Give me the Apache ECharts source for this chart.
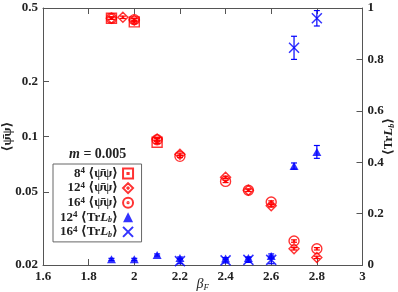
<!DOCTYPE html>
<html><head><meta charset="utf-8">
<script src="https://cdn.jsdelivr.net/npm/echarts@6/dist/echarts.min.js"></script>
<style>html,body{margin:0;padding:0;background:#fff}#c{width:398px;height:292px}</style>
</head><body><div id="c"></div>
<script>
// ---- data ----
const xTicks = [1.6, 1.8, 2.0, 2.2, 2.4, 2.6, 2.8, 3.0];
const leftTicks = [0.02, 0.05, 0.1, 0.2, 0.5];
const rightTicks = [0, 0.2, 0.4, 0.6, 0.8, 1];

const beta8 = [1.9, 2.0, 2.1];
const pp8 = [0.44, 0.42, 0.093];
const beta12 = [1.9, 1.95, 2.0, 2.1, 2.2, 2.4, 2.5, 2.6, 2.7, 2.8];
const pp12 = [0.44, 0.445, 0.43, 0.097, 0.08, 0.06, 0.051, 0.042, 0.0245, 0.022];
const beta16 = [1.9, 2.0, 2.1, 2.2, 2.4, 2.5, 2.6, 2.7, 2.8];
const pp16 = [0.44, 0.432, 0.096, 0.078, 0.057, 0.051, 0.044, 0.027, 0.0245];
const betaL12 = [1.9, 2.0, 2.1, 2.2, 2.4, 2.5, 2.6, 2.7, 2.8];
const trL12 = [0.022, 0.022, 0.039, 0.027, 0.025, 0.027, 0.035, 0.385, 0.44];
const trL12Err = [0.004, 0.004, 0.004, 0.004, 0.004, 0.004, 0.008, 0.012, 0.025];
const betaL16 = [2.2, 2.4, 2.5, 2.6, 2.7, 2.8];
const trL16 = [0.015, 0.018, 0.02, 0.02, 0.845, 0.96];
const trL16Err = [0.01, 0.01, 0.01, 0.015, 0.045, 0.03];
const ppRelErr = 0.015;

const RED = '#ff0000', BLUE = '#0000ff', AX = '#555555';
const FONT = '"Liberation Serif", "DejaVu Serif", serif';

const pts = (xs, ys) => xs.map((x, i) => [x, ys[i]]);
const errPts = (xs, ys, es) => xs.map((x, i) => [x, ys[i], es[i]]);

const SQ = 'path://M0,0H10V10H0Z M4.4,4.4H5.6V5.6H4.4Z';
const DI = 'path://M5,0L10,5L5,10L0,5Z M5,4.3L5.7,5L5,5.7L4.3,5Z';
const CI = 'path://M5,0A5,5,0,1,1,5,10A5,5,0,1,1,5,0Z M5,4.4A0.6,0.6,0,1,1,5,5.6A0.6,0.6,0,1,1,5,4.4Z';
const XX = 'path://M0,0L10,10M10,0L0,10';

function errSeries(data, color, yIdx, cap) {
  return {
    type: 'custom', xAxisIndex: 0, yAxisIndex: yIdx, silent: true, z: 3,
    data: data,
    renderItem: function (params, api) {
      const x = api.value(0), y = api.value(1), e = api.value(2);
      const lo = api.coord([x, y - e]), hi = api.coord([x, y + e]);
      const st = { stroke: color, lineWidth: 1.2 };
      return { type: 'group', children: [
        { type: 'line', shape: { x1: lo[0], y1: lo[1], x2: hi[0], y2: hi[1] }, style: st },
        { type: 'line', shape: { x1: lo[0] - cap, y1: lo[1], x2: lo[0] + cap, y2: lo[1] }, style: st },
        { type: 'line', shape: { x1: hi[0] - cap, y1: hi[1], x2: hi[0] + cap, y2: hi[1] }, style: st }
      ]};
    }
  };
}

const rel = (xs, ys) => xs.map((x, i) => [x, ys[i], ys[i] * ppRelErr]);

const hollow = (c) => ({ color: 'rgba(0,0,0,0)', borderColor: c, borderWidth: 1.4 });

const legendNames = {
  pp8: '{n|8}{s|4} {t|⟨ψ̄ψ⟩}',
  pp12: '{n|12}{s|4} {t|⟨ψ̄ψ⟩}',
  pp16: '{n|16}{s|4} {t|⟨ψ̄ψ⟩}',
  L12: '{n|12}{s|4} {t|⟨Tr}{i|L}{b|b}{t|⟩}',
  L16: '{n|16}{s|4} {t|⟨Tr}{i|L}{b|b}{t|⟩}'
};

const baseLabel = { fontFamily: FONT, fontWeight: 'bold', fontSize: 13, color: '#222' };

const chart = echarts.init(document.getElementById('c'), null, { renderer: 'canvas' });
chart.setOption({
  animation: false,
  backgroundColor: '#fff',
  grid: { left: 43, right: 35.5, top: 8, bottom: 27, containLabel: false, outerBoundsMode: 'none' },
  title: {
    text: '{i|m} = 0.005', left: 64, top: 142,
    textStyle: { fontFamily: FONT, fontWeight: 'bold', fontSize: 14, color: '#222',
      rich: { i: { fontFamily: FONT, fontStyle: 'italic', fontWeight: 'bold', fontSize: 14, color: '#222' } } }
  },
  legend: {
    orient: 'vertical', align: 'right', left: 53, top: 164,
    data: ['pp8', 'pp12', 'pp16', 'L12', 'L16'],
    itemWidth: 10, itemHeight: 10, itemGap: 0.6,
    padding: [2.5, 7.5, 3, 7],
    borderColor: '#666', borderWidth: 1, backgroundColor: '#fff',
    formatter: (n) => legendNames[n],
    textStyle: {
      fontFamily: FONT, fontWeight: 'bold', fontSize: 13, color: '#222', lineHeight: 14,
      rich: {
        n: { fontFamily: FONT, fontWeight: 'bold', fontSize: 13, color: '#222' },
        s: { fontFamily: FONT, fontWeight: 'bold', fontSize: 9, color: '#222', verticalAlign: 'top', padding: [0, 0, 6, 0] },
        t: { fontFamily: FONT, fontWeight: 'bold', fontSize: 13, color: '#222' },
        i: { fontFamily: FONT, fontWeight: 'bold', fontStyle: 'italic', fontSize: 13, color: '#222' },
        b: { fontFamily: FONT, fontWeight: 'bold', fontStyle: 'italic', fontSize: 8, color: '#222', verticalAlign: 'bottom', padding: [4, 0, 0, 0] }
      }
    }
  },
  xAxis: [{
    type: 'value', position: 'bottom', min: 1.6, max: 3, interval: 0.2,
    name: '{b|β}{s|F}', nameLocation: 'middle', nameGap: 12, nameMoveOverlap: false,
    nameTextStyle: { rich: {
      b: { fontFamily: FONT, fontStyle: 'italic', fontSize: 14, color: '#222' },
      s: { fontFamily: FONT, fontStyle: 'italic', fontSize: 9, color: '#222', verticalAlign: 'bottom', padding: [6, 0, 0, 0] } } },
    axisLine: { lineStyle: { color: AX, width: 1 } },
    axisTick: { inside: true, length: 6, lineStyle: { color: AX } },
    axisLabel: Object.assign({ margin: 5, formatter: (v) => String(+v.toFixed(1)) }, baseLabel),
    splitLine: { show: false }
  }, {
    type: 'value', position: 'top', min: 1.6, max: 3, interval: 0.2,
    axisLine: { lineStyle: { color: AX, width: 1 } },
    axisTick: { inside: true, length: 6, lineStyle: { color: AX } },
    axisLabel: { show: false }, splitLine: { show: false }
  }],
  yAxis: [{
    type: 'log', position: 'left', min: 0.02, max: 0.5, logBase: 10,
    name: '⟨ψ̄ψ⟩', nameLocation: 'middle', nameRotate: 90, nameGap: 29, nameMoveOverlap: false,
    nameTextStyle: { fontFamily: FONT, fontWeight: 'bold', fontSize: 13, color: '#222' },
    axisLine: { show: true, lineStyle: { color: AX, width: 1 } },
    axisTick: { inside: true, length: 6, lineStyle: { color: AX }, customValues: leftTicks },
    axisLabel: Object.assign({ margin: 5, customValues: leftTicks, formatter: (v) => String(+(+v).toPrecision(3)) }, baseLabel),
    minorTick: { show: false }, splitLine: { show: false }
  }, {
    type: 'value', position: 'right', min: 0, max: 1, interval: 0.2,
    name: '{t|⟨Tr}{i|L}{b|b}{t|⟩}', nameLocation: 'middle', nameRotate: 90, nameGap: 20, nameMoveOverlap: false,
    nameTextStyle: { rich: {
      t: { fontFamily: FONT, fontWeight: 'bold', fontSize: 13, color: '#222' },
      i: { fontFamily: FONT, fontWeight: 'bold', fontStyle: 'italic', fontSize: 13, color: '#222' },
      b: { fontFamily: FONT, fontWeight: 'bold', fontStyle: 'italic', fontSize: 8, color: '#222', verticalAlign: 'bottom', padding: [4, 0, 0, 0] } } },
    axisLine: { show: true, lineStyle: { color: AX, width: 1 } },
    axisTick: { inside: true, length: 6, lineStyle: { color: AX } },
    axisLabel: Object.assign({ margin: 5 }, baseLabel),
    splitLine: { show: false }
  }],
  series: [
    { name: 'pp8', type: 'scatter', xAxisIndex: 0, yAxisIndex: 0, symbol: SQ, symbolSize: 10,
      itemStyle: hollow(RED), data: pts(beta8, pp8), z: 4 },
    { name: 'pp12', type: 'scatter', xAxisIndex: 0, yAxisIndex: 0, symbol: DI, symbolSize: 10,
      itemStyle: hollow(RED), data: pts(beta12, pp12), z: 4 },
    { name: 'pp16', type: 'scatter', xAxisIndex: 0, yAxisIndex: 0, symbol: CI, symbolSize: 10,
      itemStyle: hollow(RED), data: pts(beta16, pp16), z: 4 },
    { name: 'L12', type: 'scatter', xAxisIndex: 0, yAxisIndex: 1, symbol: 'triangle', symbolSize: [9, 8],
      itemStyle: { color: BLUE }, data: pts(betaL12, trL12), z: 4 },
    { name: 'L16', type: 'scatter', xAxisIndex: 0, yAxisIndex: 1, symbol: XX, symbolSize: 10,
      itemStyle: { color: 'rgba(0,0,0,0)', borderColor: BLUE, borderWidth: 1.5 }, data: pts(betaL16, trL16), z: 4 },
    errSeries(rel(beta8, pp8), RED, 0, 3),
    errSeries(rel(beta12, pp12), RED, 0, 3),
    errSeries(rel(beta16, pp16), RED, 0, 3),
    errSeries(errPts(betaL12, trL12, trL12Err), BLUE, 1, 3),
    errSeries(errPts(betaL16, trL16, trL16Err), BLUE, 1, 3)
  ]
});
</script></body></html>
